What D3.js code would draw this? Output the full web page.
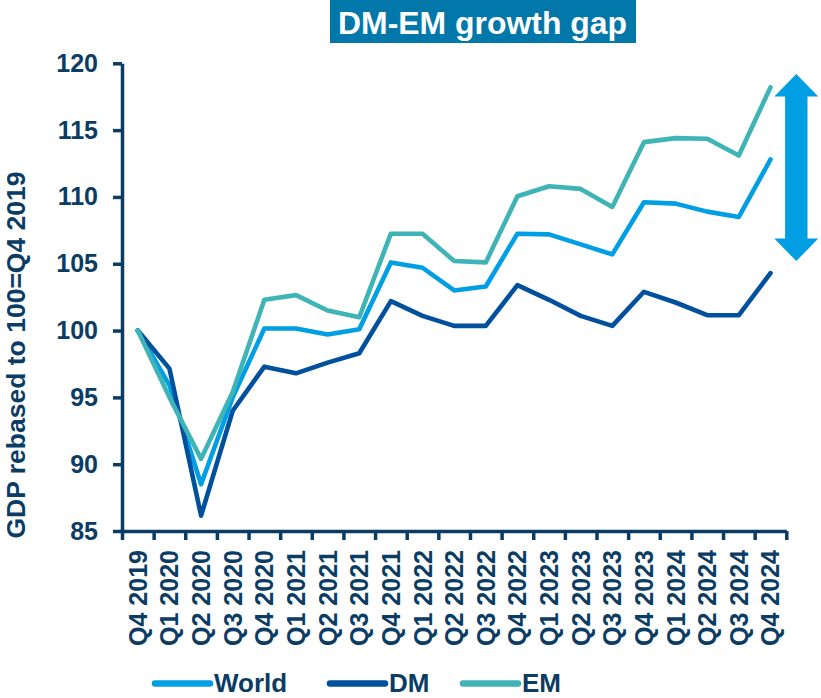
<!DOCTYPE html>
<html>
<head>
<meta charset="utf-8">
<script src="https://cdn.jsdelivr.net/npm/d3@7"></script>
<style>
  body { margin: 0; background: #fff; }
  svg { display: block; font-family: "Liberation Sans", Arial, sans-serif; font-weight: bold; }
</style>
</head>
<body>
<svg id="chart" width="821" height="698"></svg>
<script>
// quarters on the x axis
const quarters = ["Q4 2019","Q1 2020","Q2 2020","Q3 2020","Q4 2020","Q1 2021","Q2 2021","Q3 2021",
  "Q4 2021","Q1 2022","Q2 2022","Q3 2022","Q4 2022","Q1 2023","Q2 2023","Q3 2023",
  "Q4 2023","Q1 2024","Q2 2024","Q3 2024","Q4 2024"];

// GDP rebased to 100 = Q4 2019
const world = [100, 95.9, 88.5, 95.0, 100.15, 100.15, 99.7, 100.1, 105.1, 104.7, 103.0, 103.3,
  107.25, 107.2, 106.45, 105.7, 109.6, 109.5, 108.9, 108.5, 112.8];
const dm = [100, 97.15, 86.15, 94.0, 97.3, 96.8, 97.6, 98.3, 102.2, 101.1, 100.35, 100.35,
  103.4, 102.3, 101.1, 100.35, 102.9, 102.1, 101.15, 101.15, 104.3];
const em = [100, 95.0, 90.4, 95.4, 102.3, 102.65, 101.5, 101.0, 107.25, 107.25, 105.2, 105.1,
  110.05, 110.8, 110.6, 109.25, 114.1, 114.4, 114.35, 113.1, 118.2];

const yTicks = [85, 90, 95, 100, 105, 110, 115, 120];
const seriesNames = ["World", "DM", "EM"];
const gapArrow = [105.2, 119.2]; // span of the growth-gap arrow

const navy = "#0b3c63";
const color = d3.scaleOrdinal().domain(seriesNames).range(["#009fe3", "#00509e", "#3fb4b6"]);

const svg = d3.select("#chart");

const x = d3.scaleBand().domain(quarters).range([122, 786.3]).padding(0);
const xEdge = d3.scaleLinear().domain([0, quarters.length]).range(x.range());
const y = d3.scaleLinear().domain([85, 120]).range([531, 63.3]);

// title box
svg.append("rect").attr("x", 330).attr("y", 0).attr("width", 306).attr("height", 43).attr("fill", "#0277a9");
svg.append("text").attr("x", 338).attr("y", 33.5).attr("fill", "#fff")
  .attr("font-size", 31).attr("textLength", 289).attr("lengthAdjust", "spacingAndGlyphs")
  .text("DM-EM growth gap");

// y axis
const yAxis = svg.append("g").attr("transform", "translate(" + x.range()[0] + ",0)")
  .call(d3.axisLeft(y).tickValues(yTicks).tickSizeInner(9).tickSizeOuter(0).tickPadding(15));
yAxis.select(".domain").attr("stroke", navy).attr("stroke-width", 3.5);
yAxis.selectAll(".tick line").attr("stroke", navy).attr("stroke-width", 3.5);
yAxis.selectAll(".tick text").attr("fill", navy).attr("font-size", 25).attr("font-family", null);

// x axis: tick marks at the band edges, labels at the centers
const xAxis = svg.append("g").attr("transform", "translate(0," + y(85) + ")")
  .call(d3.axisBottom(xEdge).tickValues(d3.range(quarters.length + 1)).tickFormat("")
    .tickSizeInner(9).tickSizeOuter(0));
xAxis.select(".domain").attr("stroke", navy).attr("stroke-width", 3.5);
xAxis.selectAll(".tick line").attr("stroke", navy).attr("stroke-width", 3.5);

svg.append("g").selectAll("text").data(quarters).enter().append("text")
  .attr("transform", d => "translate(" + (x(d) + x.bandwidth() / 2) + "," + (y(85) + 19) + ") rotate(-90)")
  .attr("text-anchor", "end").attr("dy", "0.36em")
  .attr("fill", navy).attr("font-size", 25)
  .text(d => d);

// y label
svg.append("text")
  .attr("transform", "translate(15," + 355 + ") rotate(-90)")
  .attr("text-anchor", "middle").attr("dy", "0.36em")
  .attr("fill", navy).attr("font-size", 26.5)
  .text("GDP rebased to 100=Q4 2019");

// lines
const series = [world, dm, em];
const line = d3.line()
  .x((d, i) => x(quarters[i]) + x.bandwidth() / 2)
  .y(d => y(d));

svg.append("g").selectAll("path").data(series).enter().append("path")
  .attr("d", line)
  .attr("fill", "none")
  .attr("stroke", (d, i) => color(seriesNames[i]))
  .attr("stroke-width", 4.6)
  .attr("stroke-linejoin", "round")
  .attr("stroke-linecap", "round");

// double arrow showing the gap
const ax = x.range()[1] + 10;
const aTop = y(gapArrow[1]), aBot = y(gapArrow[0]);
const head = 22.5, headW = 22, shaftW = 11.2;
const p = d3.path();
p.moveTo(ax, aTop);
p.lineTo(ax + headW, aTop + head);
p.lineTo(ax + shaftW, aTop + head);
p.lineTo(ax + shaftW, aBot - head);
p.lineTo(ax + headW, aBot - head);
p.lineTo(ax, aBot);
p.lineTo(ax - headW, aBot - head);
p.lineTo(ax - shaftW, aBot - head);
p.lineTo(ax - shaftW, aTop + head);
p.lineTo(ax - headW, aTop + head);
p.closePath();
svg.append("path").attr("d", p.toString()).attr("fill", "#009fe3");

// legend
const legendX = [155, 330, 463];
const legend = svg.selectAll(".legend").data(seriesNames).enter().append("g")
  .attr("class", "legend")
  .attr("transform", (d, i) => "translate(" + legendX[i] + ",683.5)");
legend.append("line").attr("x1", 0).attr("x2", 55).attr("y1", 0).attr("y2", 0)
  .attr("stroke", d => color(d)).attr("stroke-width", 6.5).attr("stroke-linecap", "round");
legend.append("text").attr("x", 59).attr("y", 8.5)
  .attr("fill", navy).attr("font-size", 26)
  .text(d => d);
</script>
</body>
</html>
